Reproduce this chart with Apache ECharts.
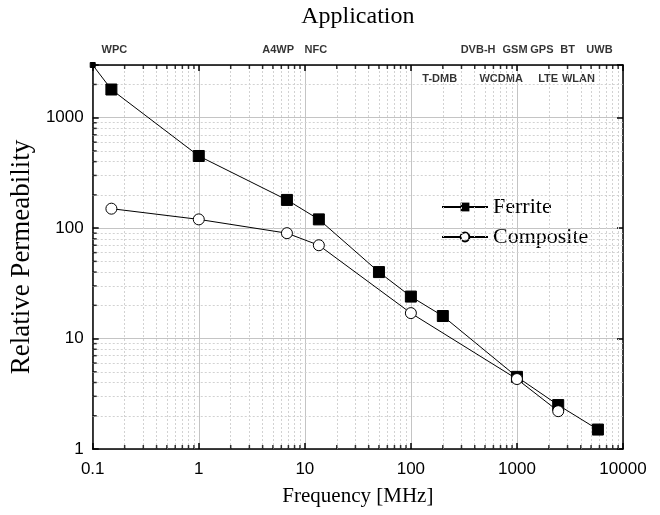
<!DOCTYPE html>
<html><head><meta charset="utf-8">
<script src="https://cdn.jsdelivr.net/npm/echarts@6/dist/echarts.min.js"></script>
<style>html,body{margin:0;padding:0;background:#fff}#c{width:660px;height:515px}</style>
</head><body><div id="c"></div>
<script>
// ---- data ----
const ferriteFreq = [0.1, 0.15, 1, 6.78, 13.56, 50, 100, 200, 1000, 2450, 5800];
const ferriteVal  = [3000, 1800, 450, 180, 120, 40, 24, 16, 4.5, 2.5, 1.5];
const compFreq = [0.15, 1, 6.78, 13.56, 100, 1000, 2450];
const compVal  = [150, 120, 90, 70, 17, 4.3, 2.2];
const appTopNames = ['WPC', 'A4WP', 'NFC', 'DVB-H', 'GSM', 'GPS', 'BT', 'UWB'];
const appTopFreq  = [0.16, 5.6, 12.7, 430, 960, 1720, 3000, 6000];
const appLowNames = ['T-DMB', 'WCDMA', 'LTE', 'WLAN'];
const appLowFreq  = [187, 710, 1970, 3800];
const xTickLabels = ['0.1', '1', '10', '100', '1000', '10000'];
const yTickLabels = ['1', '10', '100', '1000'];
const xMin = 0.1, xMax = 10000, yMin = 1, yMax = 3000;

// minor grid positions (2..9 within each decade)
const xDecades = [0.1, 1, 10, 100, 1000];
const yDecades = [1, 10, 100, 1000];
const xMinor = [], yMinor = [];
xDecades.forEach(d => { for (let k = 2; k <= 9; k++) xMinor.push(+(d * k).toPrecision(6)); });
yDecades.forEach(d => { for (let k = 2; k <= 9; k++) { const v = d * k; if (v < yMax) yMinor.push(v); } });

function isDecade(v) { const l = Math.log10(v); return Math.abs(l - Math.round(l)) < 1e-6; }
function fmtX(v) { const l = Math.round(Math.log10(v)); return isDecade(v) ? (xTickLabels[l + 1] || '') : ''; }
function fmtY(v) { const l = Math.round(Math.log10(v)); return isDecade(v) ? (yTickLabels[l] || '') : ''; }

const chart = echarts.init(document.getElementById('c'), null, {renderer: 'canvas'});
const axisLine = {show: true, lineStyle: {color: '#000', width: 1.5}};
const serif = '"Liberation Serif", "Times New Roman", serif';
const sans = '"Liberation Sans", Arial, sans-serif';

const minorMark = {
  silent: true, symbol: ['none', 'none'], animation: false,
  label: {show: false},
  lineStyle: {color: '#d2d2d2', type: [2, 2], width: 1},
  data: xMinor.map(v => ({xAxis: v})).concat(yMinor.map(v => ({yAxis: v})))
};

chart.setOption({
  animation: false,
  backgroundColor: '#fff',
  grid: {left: 91, right: 37, top: 58, bottom: 66, containLabel: false},
  legend: {
    data: ['Ferrite', 'Composite'], orient: 'vertical', left: 436, top: 191,
    itemWidth: 46, itemHeight: 11, itemGap: 8,
    textStyle: {fontFamily: serif, fontSize: 22, color: '#000'}
  },
  xAxis: [
    {type: 'log', min: xMin, max: xMax, position: 'bottom',
     name: 'Frequency [MHz]', nameLocation: 'middle', nameGap: 37,
     nameTextStyle: {fontFamily: serif, fontSize: 21, color: '#000'},
     axisLine, axisTick: {inside: true, length: 6, lineStyle: {color: '#000', width: 1.5}},
     axisLabel: {formatter: fmtX, fontFamily: sans, fontSize: 17, color: '#000', margin: 12, showMinLabel: true, showMaxLabel: true},
     splitLine: {show: true, lineStyle: {color: '#c4c4c4', width: 1}}},
    {type: 'log', min: xMin, max: xMax, position: 'top',
     name: 'Application', nameLocation: 'middle', nameGap: 36,
     nameTextStyle: {fontFamily: serif, fontSize: 24, color: '#000'},
     axisLine, axisTick: {inside: true, length: 6, lineStyle: {color: '#000', width: 1.5}},
     axisLabel: {show: false}, splitLine: {show: false}}
  ],
  yAxis: [
    {type: 'log', min: yMin, max: yMax, position: 'left',
     name: 'Relative Permeability', nameLocation: 'middle', nameGap: 52,
     nameTextStyle: {fontFamily: serif, fontSize: 27, color: '#000'},
     axisLine, axisTick: {inside: true, length: 6, lineStyle: {color: '#000', width: 1.5}},
     axisLabel: {formatter: fmtY, fontFamily: sans, fontSize: 17, color: '#000', margin: 9},
     splitLine: {show: true, lineStyle: {color: '#c4c4c4', width: 1}}},
    {type: 'log', min: yMin, max: yMax, position: 'right',
     axisLine, axisTick: {inside: true, length: 6, lineStyle: {color: '#000', width: 1.5}},
     axisLabel: {show: false}, splitLine: {show: false}}
  ],
  series: [
    {name: 'minorGrid', type: 'line', data: [], z: 0, silent: true, symbol: 'none', markLine: minorMark},
    {name: 'minorTicksX', type: 'scatter', silent: true, clip: false, z: 5,
     symbol: 'rect', symbolSize: [1.5, 4], symbolOffset: [0, -2], itemStyle: {color: '#000'},
     data: xMinor.map(v => [v, yMin])},
    {name: 'minorTicksXTop', type: 'scatter', silent: true, clip: false, z: 5,
     symbol: 'rect', symbolSize: [1.5, 4], symbolOffset: [0, 2], itemStyle: {color: '#000'},
     data: xMinor.map(v => [v, yMax])},
    {name: 'minorTicksY', type: 'scatter', silent: true, clip: false, z: 5,
     symbol: 'rect', symbolSize: [4, 1.5], symbolOffset: [2, 0], itemStyle: {color: '#000'},
     data: yMinor.map(v => [xMin, v])},
    {name: 'appTop', type: 'scatter', silent: true, clip: false, symbolSize: 0,
     data: appTopFreq.map((f, i) => ({value: [f, yMax], name: appTopNames[i]})),
     label: {show: true, position: 'top', distance: 10, formatter: p => p.name,
             fontFamily: sans, fontWeight: 'bold', fontSize: 11, color: '#000'}},
    {name: 'appLow', type: 'scatter', silent: true, clip: false, symbolSize: 0,
     data: appLowFreq.map((f, i) => ({value: [f, yMax], name: appLowNames[i]})),
     label: {show: true, position: 'bottom', distance: 8, formatter: p => p.name,
             fontFamily: sans, fontWeight: 'bold', fontSize: 11, color: '#000'}},
    {name: 'Ferrite', type: 'line', z: 10,
     data: ferriteFreq.map((f, i) => i === 0 ? {value: [f, ferriteVal[i]], symbolSize: 5} : [f, ferriteVal[i]]),
     symbol: 'rect', symbolSize: 11, showAllSymbol: true,
     lineStyle: {color: '#000', width: 1}, itemStyle: {color: '#000', borderColor: '#000'}},
    {name: 'Composite', type: 'line', z: 10,
     data: compFreq.map((f, i) => [f, compVal[i]]),
     symbol: 'circle', symbolSize: 11, showAllSymbol: true,
     lineStyle: {color: '#000', width: 1}, itemStyle: {color: '#fff', borderColor: '#000', borderWidth: 1}}
  ]
});
</script></body></html>
